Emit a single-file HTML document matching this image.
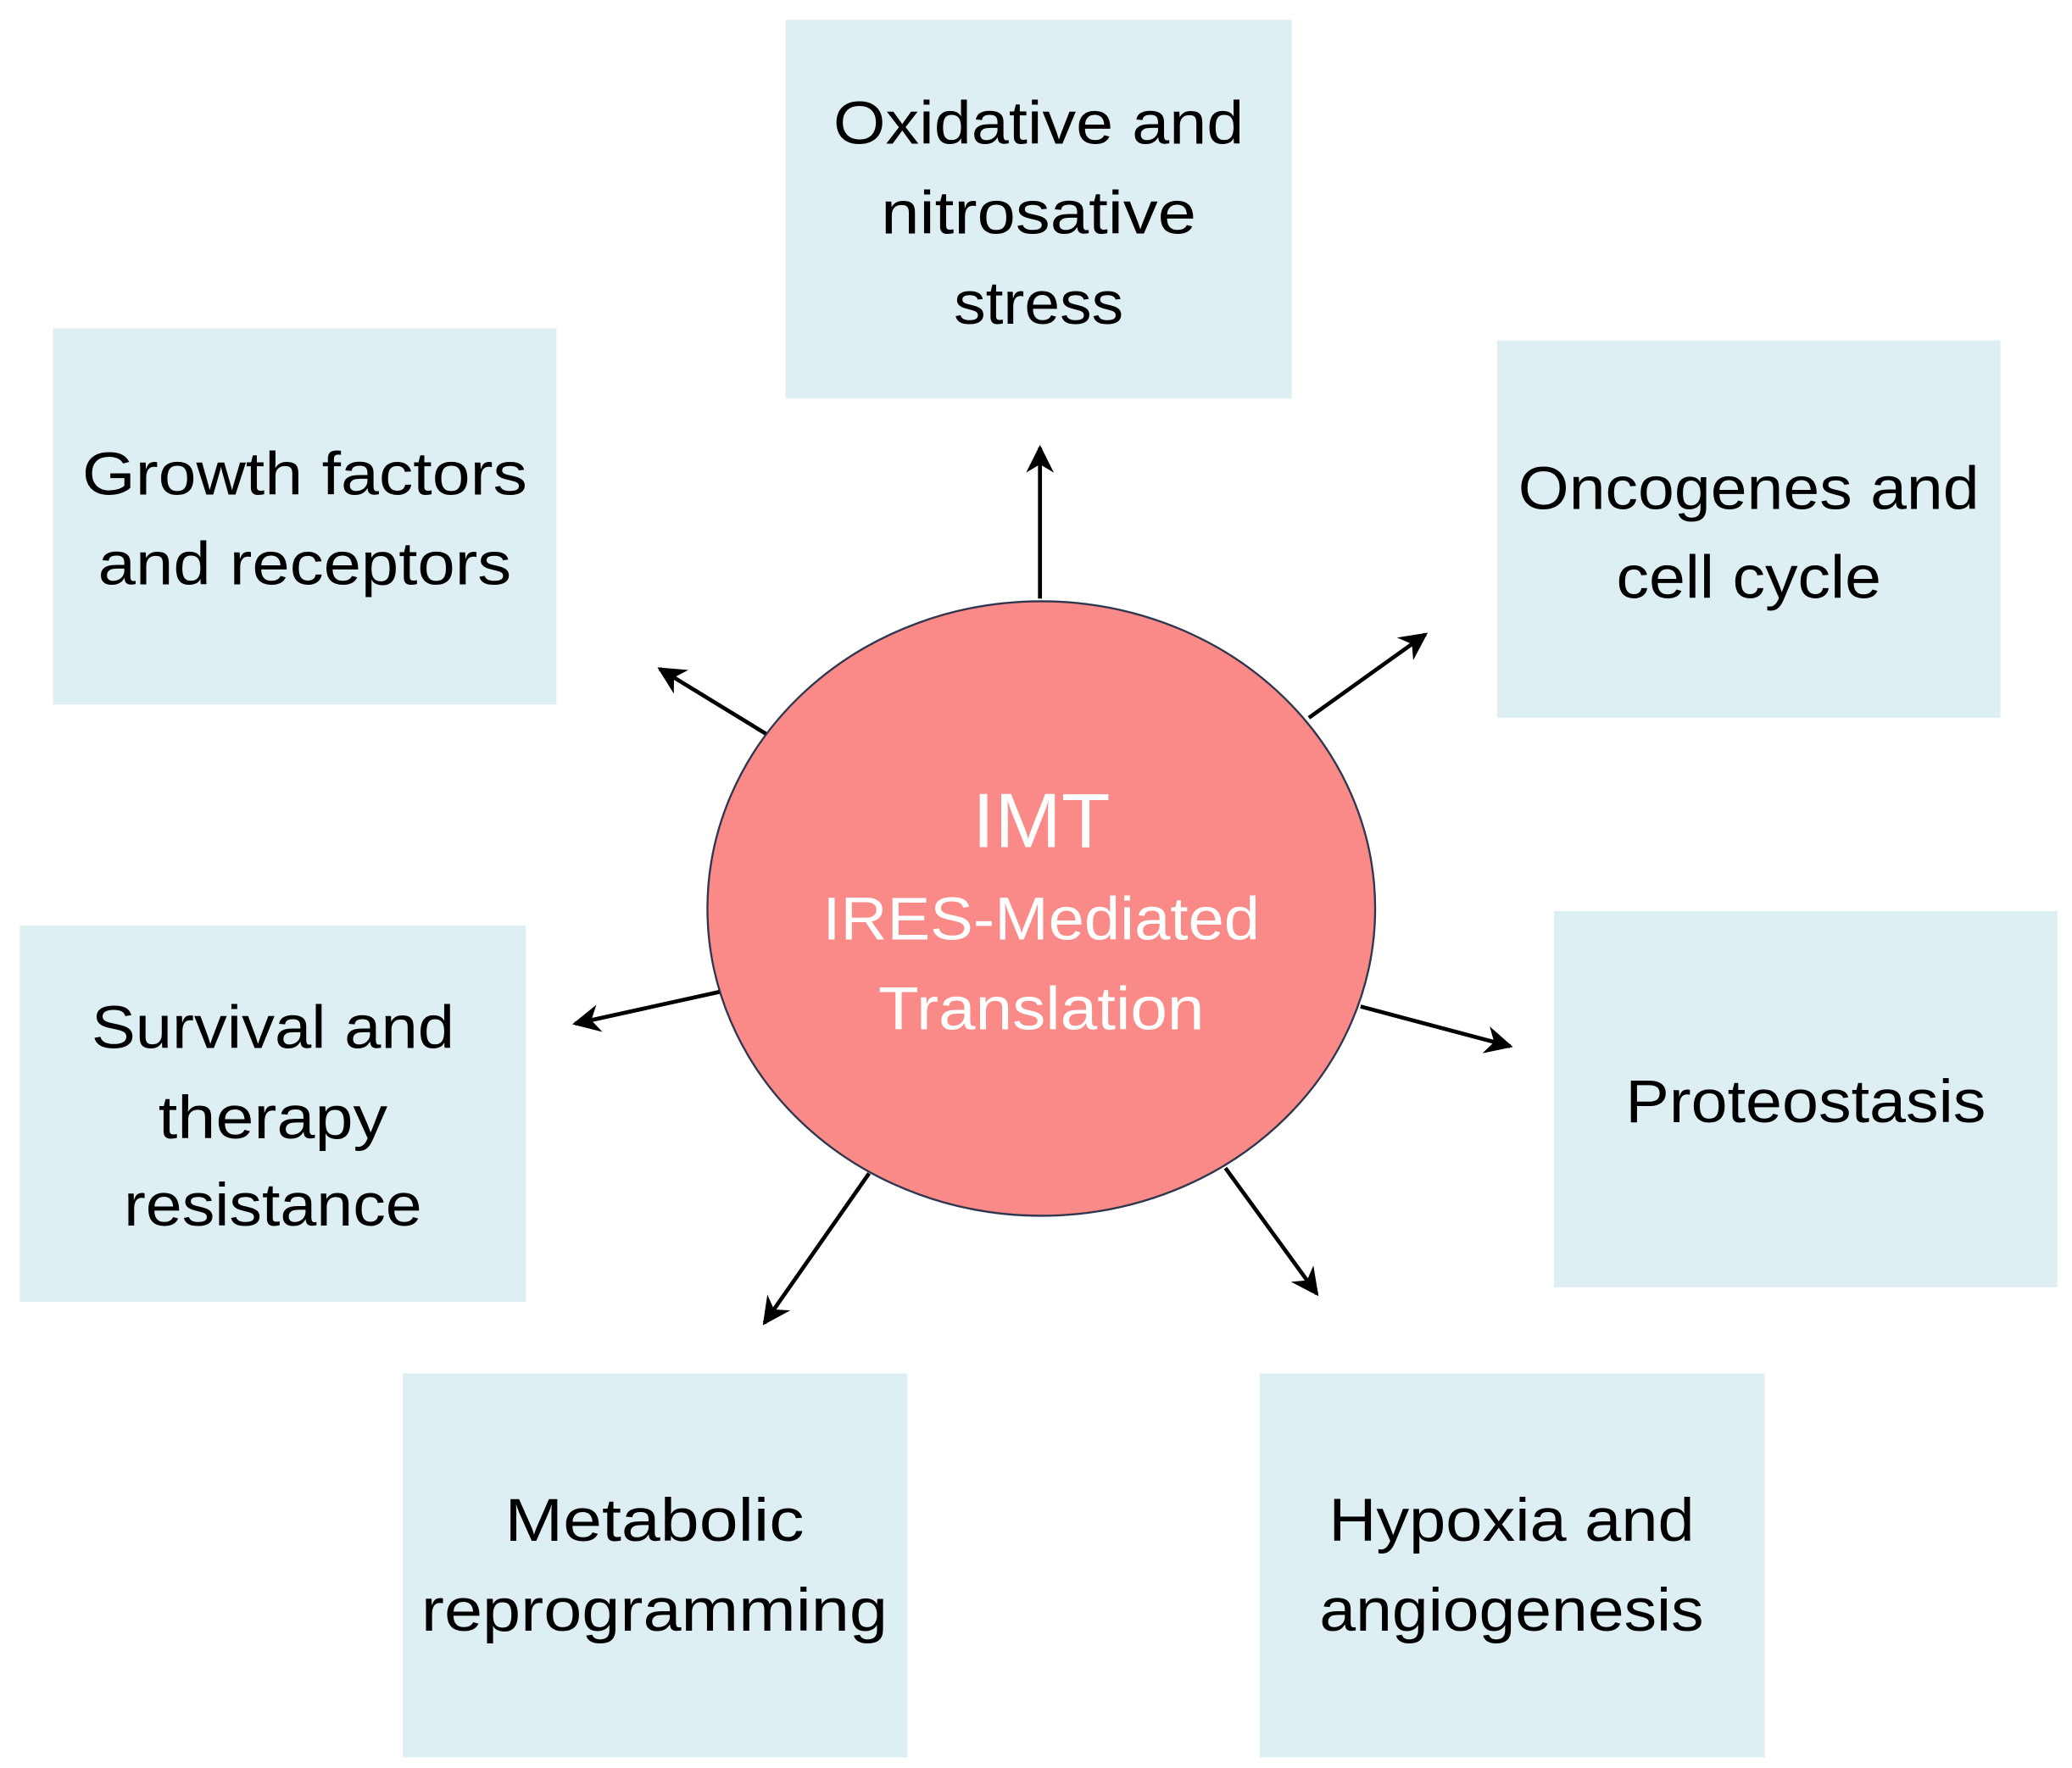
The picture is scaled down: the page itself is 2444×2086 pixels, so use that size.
<!DOCTYPE html>
<html><head><style>html,body{margin:0;padding:0;background:#fff}svg{display:block}</style></head><body>
<svg width="2444" height="2086" viewBox="0 0 1564 1335" preserveAspectRatio="none" xmlns="http://www.w3.org/2000/svg">
<defs><marker id="a" viewBox="0 0 10 10" refX="9" refY="5" markerWidth="7" markerHeight="7" orient="auto"><path d="M0,0 L10,5 L0,10 L3,5 z" fill="#000"/></marker></defs>
<g fill="#ddeff3">
<rect x="593" y="15" width="382" height="286"/>
<rect x="40" y="248" width="380" height="284"/>
<rect x="1130" y="257" width="380" height="285"/>
<rect x="15" y="699" width="382" height="284"/>
<rect x="1173" y="688" width="380" height="284"/>
<rect x="304" y="1037" width="381" height="290"/>
<rect x="951" y="1037" width="381" height="290"/>
</g>
<ellipse cx="786" cy="686" rx="252" ry="232" fill="#f98a87" stroke="#2f3650" stroke-width="1.5"/>
<g stroke="#000" stroke-width="3" marker-end="url(#a)">
<line x1="785" y1="452" x2="785" y2="338"/>
<line x1="578" y1="554" x2="498" y2="505"/>
<line x1="988" y1="542" x2="1076" y2="479"/>
<line x1="543" y1="749" x2="434" y2="773"/>
<line x1="1027" y1="760" x2="1140" y2="790"/>
<line x1="656" y1="886" x2="577" y2="999"/>
<line x1="925" y1="882" x2="994" y2="977"/>
</g>
<g font-family="Liberation Sans, sans-serif" font-size="46" fill="#000" text-anchor="middle" dominant-baseline="central" lengthAdjust="spacingAndGlyphs">
<text x="784" y="93" textLength="310" lengthAdjust="spacingAndGlyphs">Oxidative and</text>
<text x="784" y="161" textLength="238" lengthAdjust="spacingAndGlyphs">nitrosative</text>
<text x="784" y="229" textLength="128" lengthAdjust="spacingAndGlyphs">stress</text>
<text x="230" y="358" textLength="336" lengthAdjust="spacingAndGlyphs">Growth factors</text>
<text x="230" y="426" textLength="312" lengthAdjust="spacingAndGlyphs">and receptors</text>
<text x="1320" y="369" textLength="348" lengthAdjust="spacingAndGlyphs">Oncogenes and</text>
<text x="1320" y="436" textLength="200" lengthAdjust="spacingAndGlyphs">cell cycle</text>
<text x="206" y="776" textLength="274" lengthAdjust="spacingAndGlyphs">Survival and</text>
<text x="206" y="844" textLength="173" lengthAdjust="spacingAndGlyphs">therapy</text>
<text x="206" y="910" textLength="225" lengthAdjust="spacingAndGlyphs">resistance</text>
<text x="1363" y="832" textLength="272" lengthAdjust="spacingAndGlyphs">Proteostasis</text>
<text x="494" y="1148" textLength="226" lengthAdjust="spacingAndGlyphs">Metabolic</text>
<text x="494" y="1216" textLength="352" lengthAdjust="spacingAndGlyphs">reprogramming</text>
<text x="1141" y="1148" textLength="276" lengthAdjust="spacingAndGlyphs">Hypoxia and</text>
<text x="1141" y="1216" textLength="290" lengthAdjust="spacingAndGlyphs">angiogenesis</text>
</g>
<g font-family="Liberation Sans, sans-serif" fill="#fff" text-anchor="middle" dominant-baseline="central">
<text x="786" y="620" font-size="58" textLength="104" lengthAdjust="spacingAndGlyphs">IMT</text>
<text x="786" y="694" font-size="46" textLength="330" lengthAdjust="spacingAndGlyphs">IRES-Mediated</text>
<text x="786" y="762" font-size="46" textLength="246" lengthAdjust="spacingAndGlyphs">Translation</text>
</g>
</svg>
</body></html>
